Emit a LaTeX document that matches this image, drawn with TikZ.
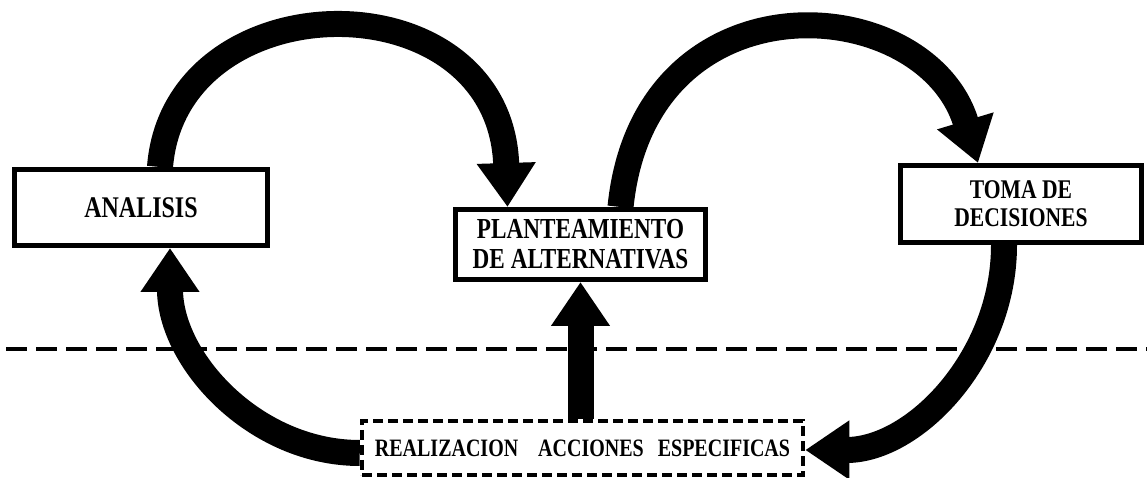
\documentclass[tikz,border=0pt]{standalone}
\usepackage{fontspec}
\setmainfont{Liberation Serif}[FakeStretch=0.8]
\usepackage{tikz}
\usetikzlibrary{arrows.meta, positioning, calc}
\tikzstyle{stage} = [rectangle, draw=black, line width=5pt, inner sep=0pt, align=center, font=\bfseries\fontsize{30}{31}\selectfont]
\tikzstyle{task} = [rectangle, draw=black, line width=4.5pt, dash pattern=on 10pt off 5pt, inner sep=0pt, font=\bfseries\fontsize{25}{25}\selectfont]
\tikzstyle{bigarrow} = [line width=26pt, -{Triangle[width=56pt,length=44pt]}]
\tikzstyle{divider} = [line width=4pt, dash pattern=on 21pt off 9pt]

\begin{document}
\begin{tikzpicture}[x=1pt, y=1pt]
    \path[use as bounding box, fill=white] (0,0) rectangle (1147,478);

    % dashed divider (behind everything)
    \coordinate (dl) at (6,129);
    \coordinate (dr) at (1147,129);
    \draw [divider] (dl) -- (dr);

    % the four stages
    \node (anal) [stage, minimum width=253, minimum height=76] at (141,270.5) {ANALISIS};
    \node (plan) [stage, minimum width=250, minimum height=70, font=\bfseries\fontsize{29}{30}\selectfont] at (580.5,233.5) {PLANTEAMIENTO\\DE ALTERNATIVAS};
    \node (toma) [stage, minimum width=241, minimum height=77, font=\bfseries\fontsize{27}{28}\selectfont] at (1021,274) {TOMA DE\\DECISIONES};
    \node (real) [task, minimum width=441, minimum height=54] at (582.5,30) {REALIZACION\hspace{20pt}ACCIONES\hspace{14pt}ESPECIFICAS};

    % cycle arrows
    \draw [bigarrow] ([xshift=19]anal.north) .. controls +(15,189) and +(-7,232) .. ([xshift=-73]plan.north);
    \draw [bigarrow] ([xshift=40]plan.north) .. controls +(24,237) and +(-52,173) .. ([xshift=-43]toma.north);
    \draw [bigarrow] ([xshift=-17]toma.south) .. controls +(0,-113) and +(109,0) .. ([yshift=-2]real.east);
    \draw [bigarrow] ([yshift=-5]real.west) .. controls +(-105,0) and +(0,-112) .. ([xshift=29]anal.south);
    \draw [bigarrow] (real.north -| plan.south) -- (plan.south);
\end{tikzpicture}
\end{document}
